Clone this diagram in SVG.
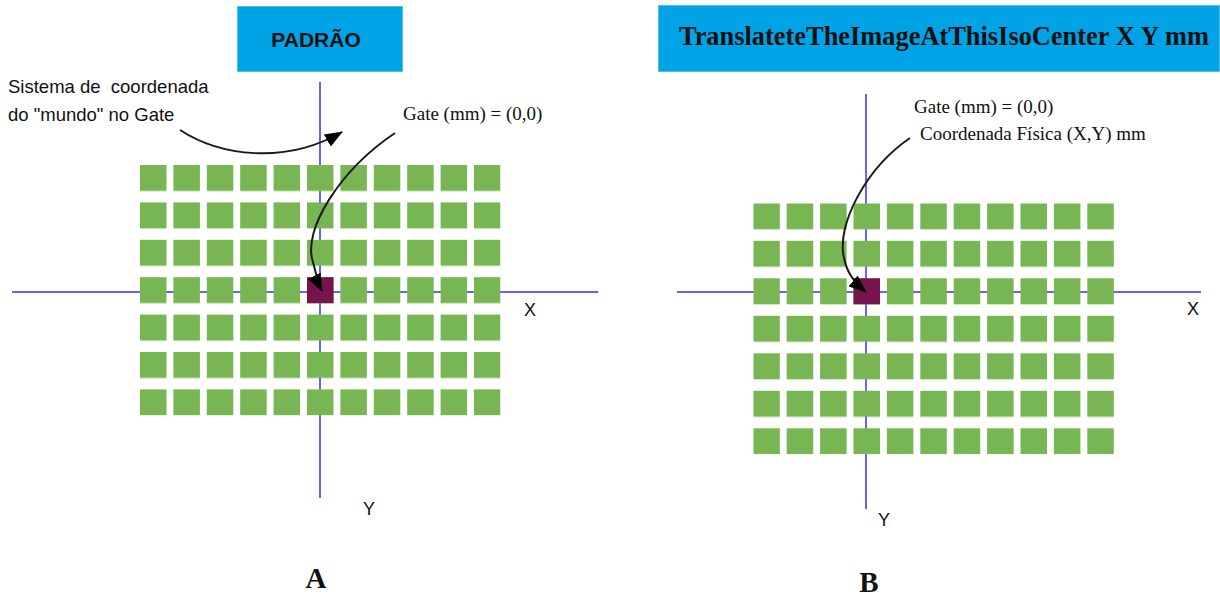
<svg xmlns="http://www.w3.org/2000/svg" width="1220" height="596" viewBox="0 0 1220 596">
  <style>
    .hdr { fill: #00A3E6; stroke: #4FC0EE; stroke-width: 1; }
    .axis { stroke: #6464FA; stroke-width: 2; fill: none; }
    .cell { fill: #78B653; }
    .gate { fill: #761450; }
    .conn { stroke: #1a1a1a; stroke-width: 2; fill: none; marker-end: url(#arrow); }
    .sans { font-family: "Liberation Sans", Arial, sans-serif; fill: #111; }
    .serif { font-family: "Liberation Serif", "Times New Roman", serif; fill: #111; }
  </style>
  <defs>
    <marker id="arrow" markerUnits="userSpaceOnUse" viewBox="0 0 18 14" markerWidth="18" markerHeight="14" refX="17" refY="7" orient="auto">
      <path d="M0,0 L18,7 L0,14 z" fill="#000"/>
    </marker>
    <pattern id="gridL" patternUnits="userSpaceOnUse" x="140" y="165" width="33.4" height="37.4">
      <rect class="cell" x="0" y="0" width="26.5" height="26"/>
    </pattern>
    <pattern id="gridR" patternUnits="userSpaceOnUse" x="753.3" y="203.3" width="33.4" height="37.5">
      <rect class="cell" x="0" y="0" width="26.5" height="26"/>
    </pattern>
  </defs>

  <rect width="1220" height="596" fill="#fff"/>

  <!-- Panel A -->
  <g id="headerA">
    <rect class="hdr" x="237.5" y="6.5" width="165" height="65"/>
    <text class="sans" x="316" y="47" font-size="21" font-weight="bold" text-anchor="middle">PADRÃO</text>
  </g>
  <g id="axesA">
    <line class="axis" x1="12" y1="292" x2="598" y2="292"/>
    <line class="axis" x1="320" y1="82" x2="320" y2="498"/>
    <text class="sans" x="524" y="316" font-size="18">X</text>
    <text class="sans" x="363" y="515" font-size="18">Y</text>
  </g>
  <g id="gridA">
    <rect x="140" y="165" width="360.5" height="250.4" fill="url(#gridL)"/>
  </g>
  <g id="gateA">
    <rect class="gate" x="307" y="277.2" width="26.5" height="26"/>
  </g>
  <g id="labelWorld">
    <text class="sans" x="8" y="93" font-size="18.5" xml:space="preserve">Sistema de  coordenada</text>
    <text class="sans" x="8" y="121" font-size="18.5">do "mundo" no Gate</text>
  </g>
  <g id="labelGateA">
    <text class="serif" x="403" y="120" font-size="19">Gate (mm) = (0,0)</text>
  </g>
  <g id="captionA">
    <text class="serif" x="316" y="588" font-size="29" font-weight="bold" text-anchor="middle">A</text>
  </g>

  <!-- Panel B -->
  <g id="headerB">
    <rect class="hdr" x="658.5" y="5.5" width="561" height="66"/>
    <text class="serif" x="679" y="45" font-size="26.4" font-weight="bold">TranslateteTheImageAtThisIsoCenter X Y mm</text>
  </g>
  <g id="axesB">
    <line class="axis" x1="677" y1="292" x2="1201" y2="292"/>
    <line class="axis" x1="866" y1="94" x2="866" y2="509"/>
    <text class="sans" x="1187" y="315" font-size="18">X</text>
    <text class="sans" x="878" y="526" font-size="18">Y</text>
  </g>
  <g id="gridB">
    <rect x="753.3" y="203.3" width="360.9" height="251" fill="url(#gridR)"/>
  </g>
  <g id="gateB">
    <rect class="gate" x="853.5" y="278.3" width="26.5" height="26"/>
  </g>
  <g id="labelGateB">
    <text class="serif" x="914" y="113" font-size="19">Gate (mm) = (0,0)</text>
    <text class="serif" x="920" y="140" font-size="19">Coordenada Física (X,Y) mm</text>
  </g>
  <g id="captionB">
    <text class="serif" x="869" y="592" font-size="29" font-weight="bold" text-anchor="middle">B</text>
  </g>

  <!-- Connectors -->
  <g id="connectors">
    <path class="conn" d="M180,130 C220,156 285,165 342,132"/>
    <path class="conn" d="M395,133 C340,170 302,230 313,262 C316,274 318,283 322,291"/>
    <path class="conn" d="M910,138 C866,168 836,225 844,258 C847,272 852,280 866,292"/>
  </g>
</svg>
